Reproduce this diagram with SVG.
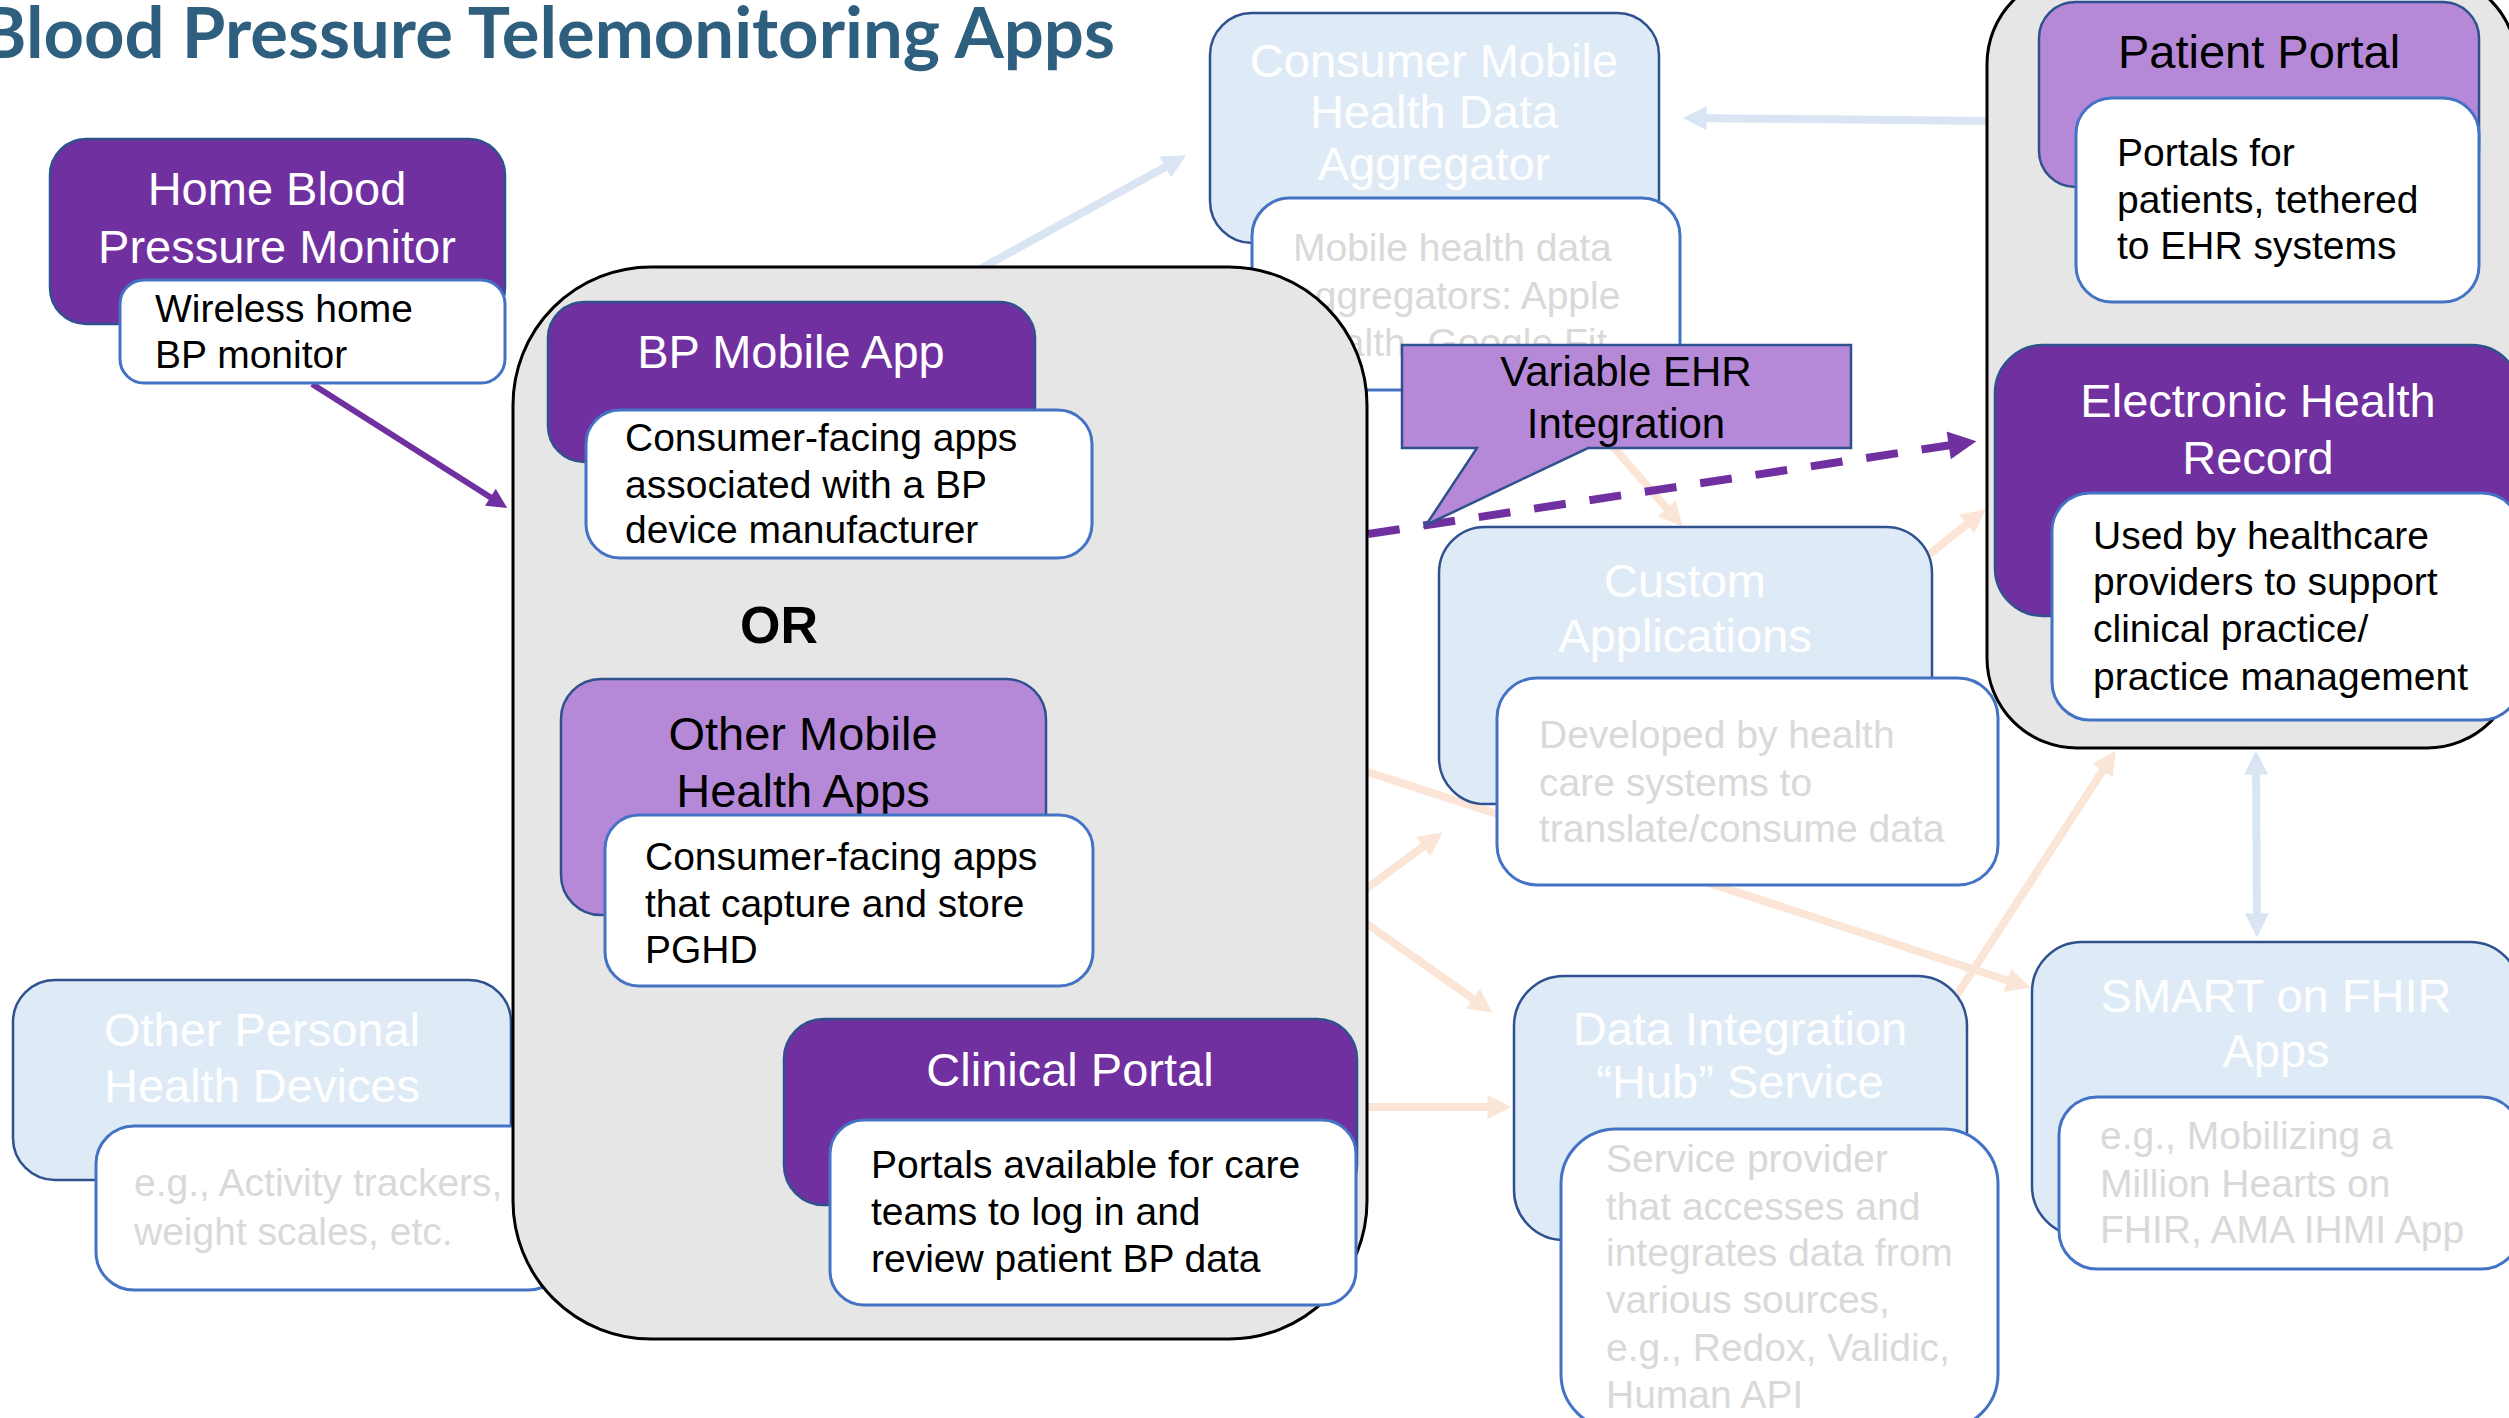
<svg xmlns="http://www.w3.org/2000/svg" width="2509" height="1418" viewBox="0 0 2509 1418">
  <style>
    text { font-family: "Liberation Sans", Arial, sans-serif; }
    .dark { fill: #7030A0; stroke: #2F528F; stroke-width: 2.5; }
    .light { fill: #B689D8; stroke: #2F528F; stroke-width: 2.5; }
    .faded { fill: #DEEBF7; stroke: #2F528F; stroke-width: 2.5; }
    .card { fill: #FFFFFF; stroke: #4472C4; stroke-width: 3; }
    .group { fill: #E6E6E6; stroke: #000000; stroke-width: 3; }
    .ttl { font-size: 47px; text-anchor: middle; }
    .ttl-w { fill: #FFFFFF; }
    .ttl-k { fill: #000000; }
    .body { font-size: 39px; fill: #000000; }
    .body-f { font-size: 39px; fill: #D9D9D9; }
    .peach { stroke: #FBE5D6; stroke-width: 8; fill: none; marker-end: url(#headPeach); }
    .pale { stroke: #DAE5F3; stroke-width: 8; fill: none; marker-end: url(#headPale); }
  </style>
  <defs>
    <marker id="headPeach" viewBox="0 0 10 10" refX="6.5" refY="5" markerWidth="26" markerHeight="24" markerUnits="userSpaceOnUse" orient="auto">
      <path d="M0,0 L10,5 L0,10 z" fill="#FBE5D6"/>
    </marker>
    <marker id="headPale" viewBox="0 0 10 10" refX="6.5" refY="5" markerWidth="26" markerHeight="24" markerUnits="userSpaceOnUse" orient="auto-start-reverse">
      <path d="M0,0 L10,5 L0,10 z" fill="#DAE5F3"/>
    </marker>
    <marker id="headPurple" viewBox="0 0 10 10" refX="7" refY="5" markerWidth="24" markerHeight="20" markerUnits="userSpaceOnUse" orient="auto">
      <path d="M0,0 L10,5 L0,10 z" fill="#7030A0"/>
    </marker>
    <marker id="headPurpleBig" viewBox="0 0 10 10" refX="7" refY="5" markerWidth="30" markerHeight="28" markerUnits="userSpaceOnUse" orient="auto">
      <path d="M0,0 L10,5 L0,10 z" fill="#7030A0"/>
    </marker>
  </defs>

  <rect x="0" y="0" width="2509" height="1418" fill="#FFFFFF"/>

  <!-- heading -->
  <text x="-20" y="58" font-family="Lato, 'Open Sans', sans-serif" font-weight="700" font-size="70" fill="#2F5F7E" textLength="1135" lengthAdjust="spacingAndGlyphs" style="font-family: Lato, 'Open Sans', sans-serif;">Blood Pressure Telemonitoring Apps</text>

  <!-- connectors -->
  <g id="connectors">
    <line class="pale" x1="960" y1="280" x2="1179" y2="159.4"/>
    <line class="pale" x1="1992" y1="121" x2="1691" y2="118"/>
    <line class="pale" x1="2256" y1="759" x2="2257" y2="929" marker-start="url(#headPale)"/>
    <line class="peach" x1="1590" y1="420" x2="1677.1" y2="520.2"/>
    <line class="peach" x1="1900" y1="578" x2="1979" y2="514.4"/>
    <line class="peach" x1="1340" y1="763" x2="2022.4" y2="985.2"/>
    <line class="peach" x1="1340" y1="908" x2="1435.8" y2="837.4"/>
    <line class="peach" x1="1340" y1="905" x2="1485.7" y2="1007.8"/>
    <line class="peach" x1="1340" y1="1107" x2="1503" y2="1107"/>
    <line class="peach" x1="1940" y1="1021" x2="2111.1" y2="757.6"/>
    <line x1="312" y1="384" x2="502.2" y2="504.7" stroke="#7030A0" stroke-width="6" marker-end="url(#headPurple)"/>
    <line x1="1368" y1="534" x2="1968.1" y2="442.4" stroke="#7030A0" stroke-width="8" stroke-dasharray="32 24" marker-end="url(#headPurpleBig)"/>
  </g>

  <!-- faded nodes -->
  <g id="other-personal-devices">
    <rect class="faded" x="13" y="980" width="498" height="200" rx="42"/>
    <text class="ttl ttl-w" x="262" y="1046">Other Personal</text>
    <text class="ttl ttl-w" x="262" y="1102">Health Devices</text>
    <rect class="card" x="96" y="1126" width="470" height="164" rx="38"/>
    <text class="body-f" x="134" y="1196">e.g., Activity trackers,</text>
    <text class="body-f" x="134" y="1245">weight scales, etc.</text>
  </g>

  <g id="consumer-aggregator">
    <rect class="faded" x="1210" y="13" width="449" height="230" rx="42"/>
    <text class="ttl ttl-w" x="1434" y="77">Consumer Mobile</text>
    <text class="ttl ttl-w" x="1434" y="128">Health Data</text>
    <text class="ttl ttl-w" x="1434" y="180">Aggregator</text>
    <rect class="card" x="1252" y="198" width="428" height="192" rx="38"/>
    <text class="body-f" x="1293" y="261">Mobile health data</text>
    <text class="body-f" x="1293" y="309">aggregators: Apple</text>
    <text class="body-f" x="1293" y="356">Health, Google Fit</text>
  </g>

  <g id="custom-applications">
    <rect class="faded" x="1439" y="527" width="493" height="277" rx="46"/>
    <text class="ttl ttl-w" x="1685" y="597">Custom</text>
    <text class="ttl ttl-w" x="1685" y="652">Applications</text>
    <rect class="card" x="1497" y="678" width="501" height="207" rx="40"/>
    <text class="body-f" x="1539" y="748">Developed by health</text>
    <text class="body-f" x="1539" y="796">care systems to</text>
    <text class="body-f" x="1539" y="842">translate/consume data</text>
  </g>

  <g id="data-integration-hub">
    <rect class="faded" x="1514" y="976" width="453" height="264" rx="50"/>
    <text class="ttl ttl-w" x="1740" y="1045">Data Integration</text>
    <text class="ttl ttl-w" x="1740" y="1098">“Hub” Service</text>
    <rect class="card" x="1561" y="1129" width="437" height="300" rx="55"/>
    <text class="body-f" x="1606" y="1172">Service provider</text>
    <text class="body-f" x="1606" y="1220">that accesses and</text>
    <text class="body-f" x="1606" y="1266">integrates data from</text>
    <text class="body-f" x="1606" y="1313">various sources,</text>
    <text class="body-f" x="1606" y="1361">e.g., Redox, Validic,</text>
    <text class="body-f" x="1606" y="1408">Human API</text>
  </g>

  <g id="smart-on-fhir">
    <rect class="faded" x="2032" y="942" width="488" height="294" rx="50"/>
    <text class="ttl ttl-w" x="2276" y="1012">SMART on FHIR</text>
    <text class="ttl ttl-w" x="2276" y="1067">Apps</text>
    <rect class="card" x="2059" y="1097" width="461" height="172" rx="38"/>
    <text class="body-f" x="2100" y="1149">e.g., Mobilizing a</text>
    <text class="body-f" x="2100" y="1197">Million Hearts on</text>
    <text class="body-f" x="2100" y="1243">FHIR, AMA IHMI App</text>
  </g>

  <!-- mobile and clinical apps grouping -->
  <g id="bp-telemonitoring-apps">
    <rect class="group" x="513" y="267" width="854" height="1072" rx="138"/>

    <g id="bp-mobile-app">
      <rect class="dark" x="548" y="302" width="487" height="160" rx="36"/>
      <text class="ttl ttl-w" x="791" y="368">BP Mobile App</text>
      <rect class="card" x="586" y="410" width="506" height="148" rx="34"/>
      <text class="body" x="625" y="451">Consumer-facing apps</text>
      <text class="body" x="625" y="498">associated with a BP</text>
      <text class="body" x="625" y="543">device manufacturer</text>
    </g>

    <text id="or-label" x="779" y="643" font-size="52" font-weight="700" text-anchor="middle" fill="#000000">OR</text>

    <g id="other-mobile-health-apps">
      <rect class="light" x="561" y="679" width="485" height="236" rx="40"/>
      <text class="ttl ttl-k" x="803" y="750">Other Mobile</text>
      <text class="ttl ttl-k" x="803" y="807">Health Apps</text>
      <rect class="card" x="605" y="815" width="488" height="171" rx="34"/>
      <text class="body" x="645" y="870">Consumer-facing apps</text>
      <text class="body" x="645" y="917">that capture and store</text>
      <text class="body" x="645" y="963">PGHD</text>
    </g>

    <g id="clinical-portal">
      <rect class="dark" x="784" y="1019" width="573" height="186" rx="40"/>
      <text class="ttl ttl-w" x="1070" y="1086">Clinical Portal</text>
      <rect class="card" x="830" y="1120" width="526" height="185" rx="34"/>
      <text class="body" x="871" y="1178">Portals available for care</text>
      <text class="body" x="871" y="1225">teams to log in and</text>
      <text class="body" x="871" y="1272">review patient BP data</text>
    </g>
  </g>

  <g id="home-bp-monitor">
    <rect class="dark" x="50" y="139" width="455" height="185" rx="36"/>
    <text class="ttl ttl-w" x="277" y="205">Home Blood</text>
    <text class="ttl ttl-w" x="277" y="263">Pressure Monitor</text>
    <rect class="card" x="120" y="280" width="385" height="103" rx="24"/>
    <text class="body" x="155" y="322">Wireless home</text>
    <text class="body" x="155" y="368">BP monitor</text>
  </g>

  <!-- EHR-tethered systems grouping -->
  <g id="ehr-systems">
    <rect class="group" x="1987" y="-26" width="530" height="774" rx="90"/>

    <g id="patient-portal">
      <rect class="light" x="2039" y="2" width="440" height="185" rx="36"/>
      <text class="ttl ttl-k" x="2259" y="68">Patient Portal</text>
      <rect class="card" x="2076" y="98" width="403" height="204" rx="36"/>
      <text class="body" x="2117" y="166">Portals for</text>
      <text class="body" x="2117" y="213">patients, tethered</text>
      <text class="body" x="2117" y="259">to EHR systems</text>
    </g>

    <g id="electronic-health-record">
      <rect class="dark" x="1995" y="345" width="525" height="271" rx="48"/>
      <text class="ttl ttl-w" x="2258" y="417">Electronic Health</text>
      <text class="ttl ttl-w" x="2258" y="474">Record</text>
      <rect class="card" x="2052" y="493" width="468" height="227" rx="38"/>
      <text class="body" x="2093" y="549">Used by healthcare</text>
      <text class="body" x="2093" y="595">providers to support</text>
      <text class="body" x="2093" y="642">clinical practice/</text>
      <text class="body" x="2093" y="690">practice management</text>
    </g>
  </g>

  <!-- callout on the EHR link -->
  <g id="variable-ehr-integration">
    <path d="M1402,345 H1851 V448 H1588 L1426,525 L1477,448 H1402 Z" fill="#B689D8" stroke="#2F528F" stroke-width="2.5"/>
    <text x="1626" y="386" font-size="42" text-anchor="middle" fill="#000000">Variable EHR</text>
    <text x="1626" y="438" font-size="42" text-anchor="middle" fill="#000000">Integration</text>
  </g>
</svg>
